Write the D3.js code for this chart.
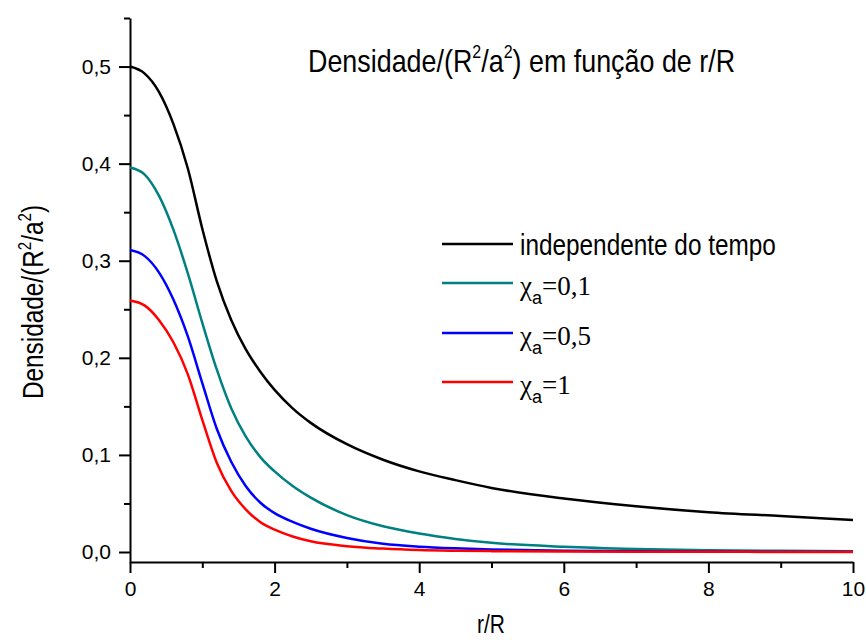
<!DOCTYPE html>
<html>
<head>
<meta charset="utf-8">
<script src="https://cdn.jsdelivr.net/npm/d3@7"></script>
<style>
  body { margin: 0; background: #fff; }
  .tick text { font-size: 21px; font-family: "Liberation Sans", Arial, sans-serif; }
</style>
</head>
<body>
<svg id="chart" width="866" height="640" font-family="'Liberation Sans', Arial, sans-serif"></svg>
<script>
// r/R sample positions shared by every curve
const rValues = [0, 0.2, 0.4, 0.6, 0.8, 1.0, 1.2, 1.4, 1.6, 1.8, 2.0, 2.25, 2.5, 3.0, 3.5, 4.0, 4.5, 5.0, 6.0, 7.0, 8.0, 9.0, 10.0];

// density / (R^2/a^2) for each case
const independente = [0.500, 0.493, 0.474, 0.441, 0.395, 0.333, 0.279, 0.239, 0.209, 0.186, 0.167, 0.148, 0.133, 0.111, 0.095, 0.083, 0.074, 0.066, 0.055, 0.047, 0.041, 0.037, 0.033];
const chi01 = [0.396, 0.389, 0.367, 0.332, 0.287, 0.236, 0.188, 0.148, 0.119, 0.098, 0.083, 0.068, 0.056, 0.038, 0.0265, 0.019, 0.0135, 0.0095, 0.0055, 0.0032, 0.0019, 0.0012, 0.0008];
const chi05 = [0.311, 0.305, 0.288, 0.260, 0.222, 0.174, 0.127, 0.093, 0.068, 0.051, 0.040, 0.031, 0.024, 0.0145, 0.0085, 0.0055, 0.0038, 0.0027, 0.0014, 0.0008, 0.0005, 0.0003, 0.0002];
const chi1 = [0.259, 0.254, 0.239, 0.216, 0.183, 0.136, 0.092, 0.063, 0.044, 0.031, 0.023, 0.016, 0.011, 0.006, 0.0035, 0.002, 0.0013, 0.0009, 0.0005, 0.0003, 0.0002, 0.0001, 0.0001];

const seriesNames = ["independente do tempo", "0,1", "0,5", "1"];
const seriesColors = ["#000000", "#008080", "#0000ff", "#ff0000"];

const xMajorTicks = [0, 2, 4, 6, 8, 10];
const xMinorTicks = [1, 3, 5, 7, 9];
const yMajorTicks = [0, 0.1, 0.2, 0.3, 0.4, 0.5];
const yMinorTicks = [0.05, 0.15, 0.25, 0.35, 0.45, 0.55];

const svg = d3.select("#chart");
const sans = "'Liberation Sans', Arial, sans-serif";
const serif = "'Liberation Serif', 'Times New Roman', serif";

const x = d3.scaleLinear().domain([0, 10]).range([130, 853]);
const y = d3.scaleLinear().domain([-0.0103, 0.55]).range([562, 18]);

const fmt = d => d3.format(".1f")(d).replace(".", ",");

// y axis: major ticks with labels, then minor ticks
const yAxisG = svg.append("g").attr("transform", `translate(${x(0)},0)`);
yAxisG.call(d3.axisLeft(y).tickValues(yMajorTicks).tickSize(11).tickSizeOuter(0).tickPadding(8).tickFormat(fmt));
yAxisG.append("g").call(d3.axisLeft(y).tickValues(yMinorTicks).tickSize(6).tickSizeOuter(0).tickFormat(""))
  .select(".domain").remove();

// x axis
const xAxisG = svg.append("g").attr("transform", `translate(0,${y.range()[0]})`);
xAxisG.call(d3.axisBottom(x).tickValues(xMajorTicks).tickSize(11).tickSizeOuter(0).tickPadding(8).tickFormat(d3.format("d")));
xAxisG.append("g").call(d3.axisBottom(x).tickValues(xMinorTicks).tickSize(6).tickSizeOuter(0).tickFormat(""))
  .select(".domain").remove();

[yAxisG, xAxisG].forEach(g => g.attr("font-size", 21).attr("font-family", sans));
svg.selectAll(".domain, .tick line").attr("stroke", "#000").attr("stroke-width", 2);
svg.selectAll(".tick text").attr("font-size", 21).attr("fill", "#000");

// curves
const line = d3.line()
  .x((d, i) => x(rValues[i]))
  .y(d => y(d))
  .curve(d3.curveMonotoneX);

[independente, chi01, chi05, chi1].forEach((vals, k) => {
  svg.append("path")
    .attr("d", line(vals))
    .attr("fill", "none")
    .attr("stroke", seriesColors[k])
    .attr("stroke-width", 2.5);
});

// text squeezed along its baseline
function condensed(tx, ty, size, rotate) {
  const rot = rotate ? ` rotate(${rotate})` : "";
  return svg.append("text")
    .attr("transform", `translate(${tx},${ty})${rot} scale(0.84,1)`)
    .attr("font-family", sans)
    .attr("font-size", size);
}

// title
const title = condensed(308, 72, 32, 0);
title.append("tspan").text("Densidade/(R");
title.append("tspan").attr("font-size", 19).attr("dy", -14).text("2");
title.append("tspan").attr("dy", 14).text("/a");
title.append("tspan").attr("font-size", 19).attr("dy", -14).text("2");
title.append("tspan").attr("dy", 14).text(") em função de r/R");

// y axis title
const yTitle = condensed(43, 302, 29, -90).attr("text-anchor", "middle");
yTitle.append("tspan").text("Densidade/(R");
yTitle.append("tspan").attr("font-size", 18).attr("dy", -12).text("2");
yTitle.append("tspan").attr("dy", 12).text("/a");
yTitle.append("tspan").attr("font-size", 18).attr("dy", -12).text("2");
yTitle.append("tspan").attr("dy", 12).text(")");

// x axis title
condensed(491, 633, 25, 0).attr("text-anchor", "middle").text("r/R");

// legend
const legendY = [244, 283, 333, 382];
seriesColors.forEach((c, k) => {
  svg.append("line")
    .attr("x1", 442).attr("x2", 513)
    .attr("y1", legendY[k]).attr("y2", legendY[k])
    .attr("stroke", c).attr("stroke-width", 2.5);
});
condensed(520, 255, 29, 0).text(seriesNames[0]);
[1, 2, 3].forEach(k => {
  const t = svg.append("text")
    .attr("x", 520).attr("y", legendY[k] + 12)
    .attr("font-family", serif)
    .attr("font-size", 27);
  t.append("tspan").text("χ");
  t.append("tspan").attr("font-family", sans).attr("font-size", 18).attr("dy", 9).text("a");
  t.append("tspan").attr("dy", -9).text("=" + seriesNames[k]);
});
</script>
</body>
</html>
